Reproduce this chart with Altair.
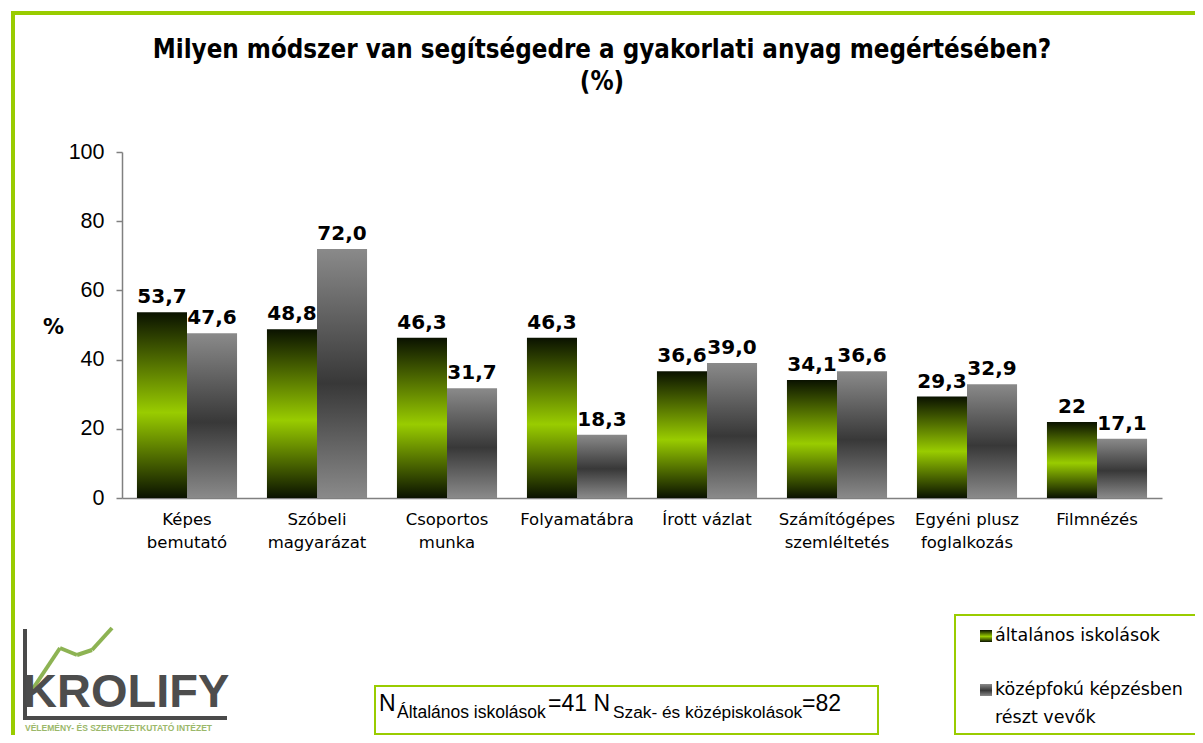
import json
import altair as alt
import pandas as pd

# ---------------- data ----------------
categories = [
    "Képes bemutató",
    "Szóbeli magyarázat",
    "Csoportos munka",
    "Folyamatábra",
    "Írott vázlat",
    "Számítógépes szemléltetés",
    "Egyéni plusz foglalkozás",
    "Filmnézés",
]
category_lines = [
    ["Képes", "bemutató"],
    ["Szóbeli", "magyarázat"],
    ["Csoportos", "munka"],
    ["Folyamatábra"],
    ["Írott vázlat"],
    ["Számítógépes", "szemléltetés"],
    ["Egyéni plusz", "foglalkozás"],
    ["Filmnézés"],
]
series = ["általános iskolások", "középfokú képzésben részt vevők"]
values_elementary = [53.7, 48.8, 46.3, 46.3, 36.6, 34.1, 29.3, 22.0]
values_secondary = [47.6, 72.0, 31.7, 18.3, 39.0, 36.6, 32.9, 17.1]
labels_elementary = ["53,7", "48,8", "46,3", "46,3", "36,6", "34,1", "29,3", "22"]
labels_secondary = ["47,6", "72,0", "31,7", "18,3", "39,0", "36,6", "32,9", "17,1"]
y_ticks = [0, 20, 40, 60, 80, 100]
title_lines = ["Milyen módszer van segítségedre a gyakorlati anyag megértésében?", "(%)"]

rows = []
for i, c in enumerate(categories):
    rows.append({"cat": c, "series": series[0], "value": values_elementary[i], "label": labels_elementary[i]})
    rows.append({"cat": c, "series": series[1], "value": values_secondary[i], "label": labels_secondary[i]})
df = pd.DataFrame(rows)

# ---------------- styles ----------------
FRAME = "#99cc00"
AXIS_GRAY = "#808080"
green_grad = alt.LinearGradient(
    gradient="linear", x1=0, y1=0, x2=0, y2=1,
    stops=[
        alt.GradientStop(color="#0a1200", offset=0),
        alt.GradientStop(color="#99cc00", offset=0.54),
        alt.GradientStop(color="#0a1200", offset=1),
    ],
)
gray_grad = alt.LinearGradient(
    gradient="linear", x1=0, y1=0, x2=0, y2=1,
    stops=[
        alt.GradientStop(color="#8a8a8a", offset=0),
        alt.GradientStop(color="#383838", offset=0.54),
        alt.GradientStop(color="#8a8a8a", offset=1),
    ],
)

label_expr = "datum.label"
for c, lines in reversed(list(zip(categories, category_lines))):
    label_expr = f"datum.label == {json.dumps(c, ensure_ascii=False)} ? {json.dumps(lines, ensure_ascii=False)} : ({label_expr})"

x_enc = alt.X(
    "cat:N", sort=categories,
    scale=alt.Scale(paddingInner=0.23, paddingOuter=0.115),
    axis=alt.Axis(
        title=None, labelAngle=0, labelExpr=label_expr, labelFont="DejaVu Sans",
        labelFontSize=16.5, labelLineHeight=23, labelPadding=13, ticks=False,
        domainColor=AXIS_GRAY, domainWidth=1.5, labelColor="black", labelBaseline="top",
        labelLimit=300,
    ),
)
xoff_enc = alt.XOffset("series:N", sort=series, scale=alt.Scale(domain=series, paddingInner=0, paddingOuter=0))
y_enc = alt.Y(
    "value:Q", scale=alt.Scale(domain=[0, 100]),
    axis=alt.Axis(
        values=y_ticks, grid=False, tickSize=6, tickColor=AXIS_GRAY, domainColor=AXIS_GRAY,
        domainWidth=1.5, tickWidth=1.5,
        labelFont="Liberation Sans", labelFontSize=21.5, labelPadding=12, labelColor="black",
        title="%", titleAngle=0, titleX=-69, titleY=175, titleAlign="center",
        titleBaseline="middle", titleFont="DejaVu Sans", titleFontSize=21, titleFontWeight="bold",
        titleColor="black",
    ),
)

base = alt.Chart(df).encode(x=x_enc, xOffset=xoff_enc, y=y_enc)

bars_green = base.transform_filter(alt.datum.series == series[0]).mark_bar(fill=green_grad)
bars_gray = base.transform_filter(alt.datum.series == series[1]).mark_bar(fill=gray_grad)
value_text = base.mark_text(
    baseline="alphabetic", dy=-9, font="DejaVu Sans", fontWeight="bold", fontSize=20, color="black"
).encode(text="label:N")

one = alt.Data(values=[{}])


def rule(x, y, x2, y2, color, width):
    return alt.Chart(one).mark_rule(color=color, strokeWidth=width, strokeCap="butt").encode(
        x=alt.value(x), y=alt.value(y), x2=alt.value(x2), y2=alt.value(y2)
    )


def box(x, y, x2, y2, stroke=FRAME, stroke_width=2):
    return alt.Chart(one).mark_rect(
        fill="white", fillOpacity=0, stroke=stroke, strokeWidth=stroke_width
    ).encode(x=alt.value(x), y=alt.value(y), x2=alt.value(x2), y2=alt.value(y2))


def swatch(x, y, x2, y2, grad):
    return alt.Chart(one).mark_rect(fill=grad).encode(
        x=alt.value(x), y=alt.value(y), x2=alt.value(x2), y2=alt.value(y2)
    )


def txt(s, x, y, size, font="Liberation Sans", weight="normal", color="black", align="left", baseline="alphabetic"):
    return alt.Chart(one).mark_text(
        font=font, fontSize=size, fontWeight=weight, color=color, align=align, baseline=baseline
    ).encode(x=alt.value(x), y=alt.value(y), text=alt.value(s))


# title
title = [
    txt(title_lines[0], 480, -102, 25.7, font="DejaVu Sans Condensed", weight="bold",
        align="center", baseline="middle"),
    txt(title_lines[1], 480, -70, 25.7, font="DejaVu Sans Condensed", weight="bold",
        align="center", baseline="middle"),
]

# outer frame (green)
frame_top = rule(-110, -139, 1090, -139, FRAME, 4)
frame_left = rule(-109, -141, -109, 600, FRAME, 4)

# legend
legend = [
    box(833, 463, 1090, 582),
    swatch(858, 478, 870, 490, green_grad),
    txt(series[0], 873, 484, 17.5, font="DejaVu Sans", baseline="middle"),
    swatch(858, 532, 870, 544, gray_grad),
    txt("középfokú képzésben", 873, 538, 17.5, font="DejaVu Sans", baseline="middle"),
    txt("részt vevők", 873, 566, 17.5, font="DejaVu Sans", baseline="middle"),
]

# sample size box
n_box = box(253, 534, 756, 582)
n_parts = [
    txt("N", 257, 559, 23),
    txt("Általános iskolások", 275, 566, 17.5),
    txt("=41 N", 426, 559, 23),
    txt("Szak- és középiskolások", 491, 566, 17.3),
    txt("=82", 680, 559, 23),
]

# logo
logo = [
    rule(-97, 477, -97, 566, "#4a4a4a", 4),
    rule(-99, 566, 105, 566, "#4a4a4a", 4),
    rule(-92, 541, -62, 496, "#8db353", 4),
    rule(-62, 496, -45, 503, "#8db353", 4),
    rule(-45, 503, -30, 498, "#8db353", 4),
    rule(-30, 498, -10, 476, "#8db353", 4),
    txt("KROLIFY", -99, 555, 47, weight="bold", color="#4d4d4d"),
    txt("VÉLEMÉNY- ÉS SZERVEZETKUTATÓ INTÉZET", -97, 576, 8.5, weight="bold", color="#9bb86a",
        baseline="middle"),
]

chart = alt.layer(
    bars_green, bars_gray, value_text, *title,
    frame_top, frame_left, *legend, n_box, *n_parts, *logo,
).properties(
    width=1040, height=346,
    background="white",
    autosize=alt.AutoSizeParams(type="none"),
    padding={"left": 114, "top": 144, "right": 33, "bottom": 237},
).configure_view(stroke=None)

chart.save("out.html", embed_options={"renderer": "svg", "actions": False})
